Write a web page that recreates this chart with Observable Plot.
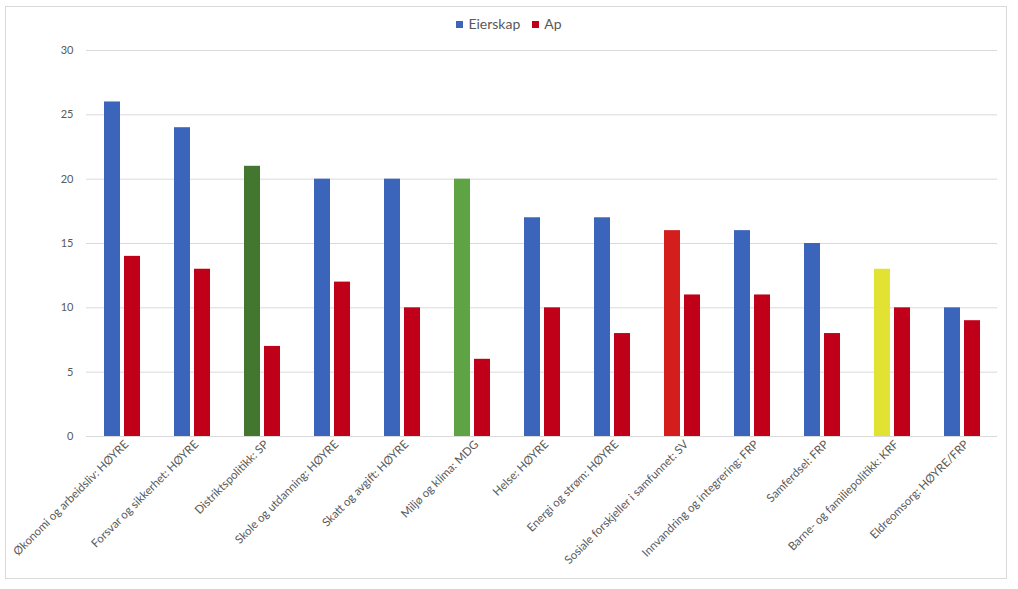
<!DOCTYPE html>
<html>
<head>
<meta charset="utf-8">
<script src="https://cdn.jsdelivr.net/npm/d3@7"></script>
<script src="https://cdn.jsdelivr.net/npm/@observablehq/plot@0.6"></script>
<style>
  html, body { margin: 0; padding: 0; background: #fff; }
  #wrap { position: relative; width: 1018px; height: 589px; font-family: Lato, "Open Sans", sans-serif; }
  #frame { position: absolute; left: 5px; top: 6px; width: 1002px; height: 573px; border: 1px solid #d9d9d9; box-sizing: border-box; }
  #legend { position: absolute; left: 0; top: 15px; width: 1018px; text-align: center; font-size: 14px; color: #595959; }
  #legend span.item { display: inline-block; margin: 0 6px; }
  #legend span.sw { display: inline-block; width: 7px; height: 7px; margin-right: 5px; vertical-align: 1px; }
  #chart { position: absolute; left: 0; top: 40px; }
</style>
</head>
<body>
<div id="wrap">
  <div id="frame"></div>
  <div id="legend"></div>
  <div id="chart"></div>
</div>
<script>
const categories = [
  "Økonomi og arbeidsliv: HØYRE",
  "Forsvar og sikkerhet: HØYRE",
  "Distriktspolitikk: SP",
  "Skole og utdanning: HØYRE",
  "Skatt og avgift: HØYRE",
  "Miljø og klima: MDG",
  "Helse: HØYRE",
  "Energi og strøm: HØYRE",
  "Sosiale forskjeller i samfunnet: SV",
  "Innvandring og integrering: FRP",
  "Samferdsel: FRP",
  "Barne- og familiepolitikk: KRF",
  "Eldreomsorg: HØYRE/FRP"
];
const eierskap = [26, 24, 21, 20, 20, 20, 17, 17, 16, 16, 15, 13, 10];
const ap       = [14, 13, 7, 12, 10, 6, 10, 8, 11, 11, 8, 10, 9];
const seriesNames = ["Eierskap", "Ap"];
const yTicks = [0, 5, 10, 15, 20, 25, 30];

// party colours (styles kept apart from the data)
const partyColor = {
  "HØYRE": "#3B65BA",
  "SP": "#43762F",
  "MDG": "#5EA444",
  "SV": "#D41E1E",
  "FRP": "#3B65BA",
  "KRF": "#E1E232",
  "HØYRE/FRP": "#3B65BA"
};
const apColor = "#C00018";
const eierskapColor = "#3B65BA";

const party = c => c.split(": ")[1];

const rows = categories.map((c, i) => ({category: c, eierskap: eierskap[i], ap: ap[i]}));

// legend
const legend = document.getElementById("legend");
[[seriesNames[0], eierskapColor], [seriesNames[1], apColor]].forEach(([n, col]) => {
  const s = document.createElement("span");
  s.className = "item";
  s.innerHTML = `<span class="sw" style="background:${col}"></span>${n}`;
  legend.appendChild(s);
});

const chart = Plot.plot({
  width: 1018,
  height: 539,
  marginTop: 10,
  marginLeft: 86,
  marginRight: 21,
  marginBottom: 143,
  style: {fontFamily: "Lato, 'Open Sans', sans-serif", fontSize: "11px", color: "#595959", background: "transparent"},
  x: {domain: categories, paddingInner: 0.486, paddingOuter: 0.243, label: null},
  y: {domain: [0, 30], ticks: yTicks, label: null, tickSize: 0, tickPadding: 13, grid: false},
  color: {type: "identity"},
  marks: [
    Plot.ruleY(yTicks, {stroke: "#d9d9d9", strokeWidth: 1}),
    Plot.barY(rows, {x: "category", y: "eierskap", fill: d => partyColor[party(d.category)], insetRight: 20}),
    Plot.barY(rows, {x: "category", y: "ap", fill: () => apColor, insetLeft: 20}),
    Plot.axisX({tickSize: 0, tickRotate: -45, tickPadding: 6, dx: 4, fontSize: 11.5, fill: "#595959", label: null})
  ]
});
document.getElementById("chart").appendChild(chart);
</script>
</body>
</html>
